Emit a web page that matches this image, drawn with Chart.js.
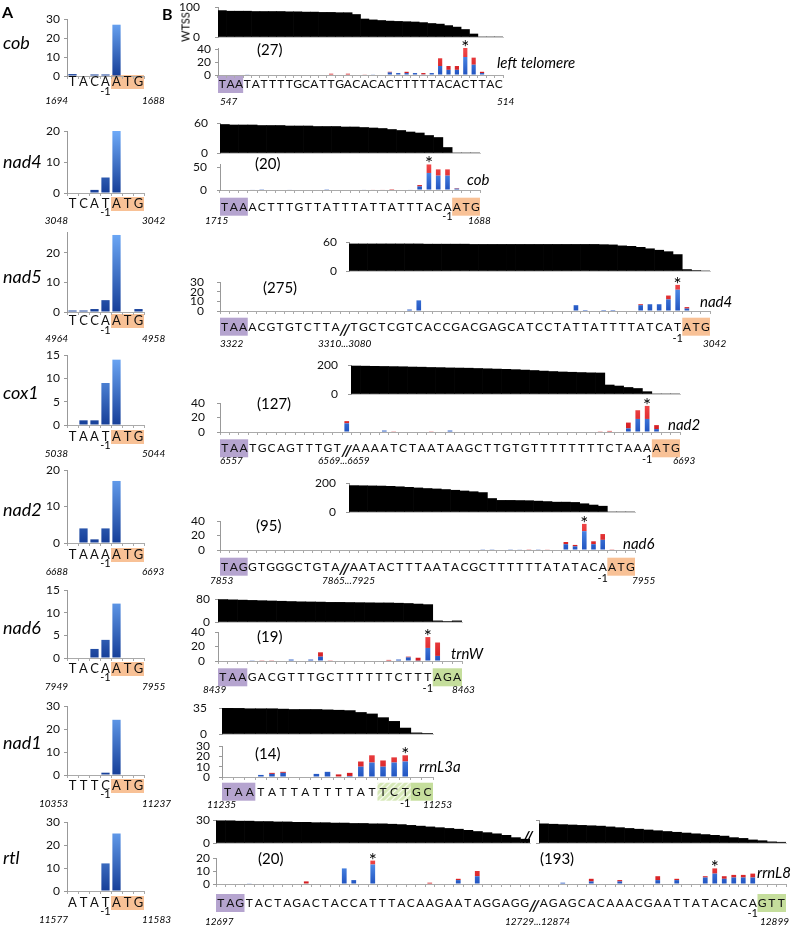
<!DOCTYPE html>
<html>
<head>
<meta charset="utf-8">
<script src="https://cdn.jsdelivr.net/npm/chart.js@4.4.1/dist/chart.umd.min.js"></script>
<style>
  body { margin: 0; width: 796px; height: 930px; position: relative; background: #fff; overflow: hidden; font-family: Lato, "Liberation Sans", sans-serif; color: #000; }
  canvas { position: absolute; }
  .t { position: absolute; white-space: nowrap; line-height: 1; }
</style>
</head>
<body>
<script>
// ---------- panel A: reads at the start codon ----------
const aGenes = ['cob', 'nad4', 'nad5', 'cox1', 'nad2', 'nad6', 'nad1', 'rtl'];
const aSeqs = ['TACAATG', 'TCATATG', 'TCCAATG', 'TAATATG', 'TAAAATG', 'TACAATG', 'TTTCATG', 'ATATATG'];
const aLeftPos = ['1694', '3048', '4964', '5038', '6688', '7949', '10353', '11577'];
const aRightPos = ['1688', '3042', '4958', '5044', '6693', '7955', '11237', '11583'];
const aCob = [1, 0, 0.8, 0.8, 27, 0, 0];
const aNad4 = [0, 0, 1, 5, 20, 0, 0];
const aNad5 = [0.5, 0.5, 1, 4, 26, 0, 1];
const aCox1 = [0, 1, 1, 9, 14, 0, 0];
const aNad2 = [0, 4, 1, 4, 17, 0, 0];
const aNad6 = [0, 0, 2, 4, 12, 0, 0];
const aNad1 = [0, 0, 0, 1, 24, 0, 0];
const aRtl = [0, 0, 0, 12, 25, 0, 0];
const aCounts = [aCob, aNad4, aNad5, aCox1, aNad2, aNad6, aNad1, aRtl];
const aMax = [30, 20, 27, 15, 20, 15, 30, 30];
const aStep = [10, 10, 10, 5, 10, 5, 10, 10];

// ---------- panel B: upstream regions ----------
const b1Seq = 'TAATATTTTGCATTGACACACTTTTTACACTTAC'.split('');
const b1Blue = [0,0,0,1,0,0,0,0,0,0, 0,0,0,0,0,0,0,0,1,0, 4,3,3,3,1,3,14,8,8,28, 16,3,0,0];
const b1Red  = [0,0,0,0,0,0,0,0,0,0, 0,0,0,2,0,2,0,1,0,0, 1,0,2,0,2,0,12,6,6,14, 11,2,0,0];
const b1Wtss = [88,86,86,86,85,85,85,85,84,84, 83,83,82,82,81,81,75,60,57,55, 53,52,51,50,48,45,43,38,33,25, 10,0,0,0];

const b2Seq = 'TAAACTTTGTTATTTATTATTTACAATG'.split('');
const b2Blue = [0,0,0,1,0.5,0,0,1,0,0, 0,0.5,0,0,0,1,0,0,0,0, 1,8,38,32,32,3,0,0];
const b2Red  = [0,0,0,0,0,0,0,0,0,0, 0,0,0,0,0,0,1,1,2,0, 0,3,19,14,14,1,0,0];
const b2Wtss = [57,56,56,56,55,55,55,54,54,54, 53,53,53,52,52,51,50,49,47,45, 42,40,35,31,11,0,0,0];

const b3Seq = [...'TAAACGTGTCTTA', '//', ...'TGCTCGTCACCGACGAGCATCCTATTATTTTATCATATG'];
const b3Blue = [0,0,0,0,0,0,0,0,0,0, 0,0,0,0,0,0,0,0,0,0, 1.5,11,0.5,0.5,0,0,0,0,0,0, 0,0,0,0,0,0,0,0,6,1, 0,1,1,0,0,6,7,7,12,22, 2.5,0.5,0];
const b3Red  = [0,0,0,0,0,0,0,0,0,0, 0,0,0,0,0,0,0,0,0,0, 0,0,0,0,0,0,0,0,0,0, 0,0,0,0,0,0,0,0,0,0, 0,0,0,0,0,1,0,0,4,5, 1.5,0,0];
const b3Wtss = [null,null,null,null,null,null,null,null,null,null, null,null,null,null,56,56,56,56,56,56, 56,56,55.5,55.5,55.5,55.5,55.5,55,55,55, 55,55,55,55,55,55,55,55,55,55, 55,54.5,54,52,51,49,46,43,40,34, 3,1,0];

const b4Seq = [...'TAATGCAGTTTGT', '//', ...'AAAATCTAATAAGCTTGTGTTTTTTTTCTAAAATG'];
const b4Blue = [0,0,0,0,0,0,0,0,0,0, 0,0,0,12,0,0,0,2,0,0, 0,0,0,0,2,0,0,0,0,0, 0,0,0,0,0,0,0,0,0,0, 0,0,0,5,18,18,4,0,0];
const b4Red  = [0,0,0,0,0,0,0,0,0,0, 0,0,0,3,0,0,0,0,1,0, 0,0,1,0,0,0,0,0,0,0, 0,0,0,0,0,0,0,0,0,0, 1,1.5,0,8,12,18,5.5,0,0];
const b4Wtss = [null,null,null,null,null,null,null,null,null,null, null,null,null,null,193,192,191,190,189,188, 186,185,183,182,180,179,178,176,174,172, 170,168,165,162,158,155,152,150,148,146, 145,62,55,45,38,16,0,0,0];

const b5Seq = [...'TAGGTGGGCTGTA', '//', ...'AATACTTTAATACGCTTTTTTATATACAATG'];
const b5Blue = [0,0,0,0,0,0,0,0,0,0, 0,0,0,0,0,0,0,0,0,0, 0,0,0,0,0,0,0,0,1,1, 0.7,1,0.5,0,1,0,0,8,5,26, 8,14,0,0,0];
const b5Red  = [0,0,0,0,0,0,0,0,0,0, 0,0,0,0,0,0,0,0,0,0, 0,0,0,0,0,0,0,0,0,0, 0,0,0,1,0,0.5,0,3,2,10, 4,8,1,0,0];
const b5Wtss = [null,null,null,null,null,null,null,null,null,null, null,null,null,null,182,181,180,179,177,174, 170,166,162,159,155,150,145,140,134,93, 80,80,79,78,75,72,68,68,66,57, 48,40,0,0,0];

const b6Seq = 'TAAGACGTTTGCTTTTTTCTTTAGA'.split('');
const b6Blue = [0,0,0,1,0,0,0,2,0,2, 6,0,0,0,0,0,0,0,2,5, 0.5,18,7,0,0];
const b6Red  = [0,0,0,0,1,1,0,0,0,0, 6,1,0,0,0,0,0,1.5,0,1, 4,15,18.5,0,0];
const b6Wtss = [80,79,78,77,76,75,74,73,72,71.5, 71,70,70,69.5,69,68.5,68,68,67,66, 64,62,4,1.5,4];

const b7Seq = 'TAATATTATTTTATTCTGC'.split('');
const b7Blue = [0,0,0,2,3,4,0.5,0.5,3,5, 0.5,1,10,14,10,14,15,0,0];
const b7Red  = [0,0,0,0,1,1,0,0,0,0, 2,3,5,7,6,5,6,0,0];
const b7Wtss = [35,34.5,34,34,34,33.5,33,33,33,32.5, 32,31.5,29,27,22,17,8,1.5,0.5];

const b8Seq = [...'TAGTACTAGACTACCATTTACAAGAATAGGAGG', '//', ...'AGAGCACAAACGAATTATACACAGTT'];
const b8Blue = [0,0,0,0.5,0,0,0,0,0,0, 0,0,0,12,3,0,15,0,0,0, 0,0,0,0,0,3,0,6,0,0, 0,0,0,0,0,0,1,0,0,2, 0,0,2,0,0,0,3,0,3,0, 0,5,8,4,5,5,5,0,0,0];
const b8Red  = [0,0,0,0,0,0,0,0,0,2, 0,0,0,0,0,0,3,0,0,0, 0,0,1,0,0,1,0,4,0,0, 0,0,0,0,0,0,0,0,0,2, 0,0,1,0,0,0,3,0,1,0, 0,1,4,2,2,2,3,0,0,0];
const b8Wtss = [29,29,28.5,28.5,28,28,27.5,27.5,27,27, 26.5,26.5,26,26,25.5,25.5,25,25,24.5,24, 23,22,21,20,19,18,16.5,15,13.5,12, 10,7,5,null,25,24.5,24,23.5,23,22.5, 22,21,20,19,18,17,16,15,14,13, 12,11,10,9,7,6,4,3,1.5,1];

// ---------- colours ----------
const PURPLE = '#b5a4cf', ORANGE = '#f8c196', GREEN = '#c5de9c';

// ---------- helpers ----------
function label(text, x, y, font, align, extra) {
  const d = document.createElement('div');
  d.className = 't';
  d.textContent = text;
  d.style.left = x + 'px';
  d.style.top = y + 'px';
  d.style.font = font;
  const tx = align === 'r' ? '-100%' : align === 'c' ? '-50%' : '0';
  d.style.transform = `translate(${tx},-50%)` + (extra || '');
  document.body.appendChild(d);
}

let hatch = null;
function hatchFill(ctx) {
  if (!hatch) {
    const c = document.createElement('canvas');
    c.width = 6; c.height = 6;
    const g = c.getContext('2d');
    g.fillStyle = '#d6e8b8';
    g.fillRect(0, 0, 6, 6);
    g.strokeStyle = '#f4f9ea';
    g.lineWidth = 1.3;
    g.beginPath(); g.moveTo(0, 6); g.lineTo(6, 0); g.moveTo(-3, 3); g.lineTo(3, -3); g.moveTo(3, 9); g.lineTo(9, 3); g.stroke();
    hatch = ctx.createPattern(c, 'repeat');
  }
  return hatch;
}

function vGrad(dark, light) {
  return (c) => {
    const a = c.chart.chartArea;
    if (!a) return dark;
    const g = c.chart.ctx.createLinearGradient(0, a.bottom, 0, a.top);
    g.addColorStop(0, dark);
    g.addColorStop(1, light);
    return g;
  };
}

const decor = {
  id: 'decor',
  beforeDraw(chart, args, o) {
    if (!o.boxes) return;
    const x = chart.scales.x, ctx = chart.ctx;
    const w = (x.right - x.left) / chart.data.labels.length;
    o.boxes.forEach(([a, b, fill]) => {
      ctx.fillStyle = fill === 'hatch' ? hatchFill(ctx) : fill;
      ctx.fillRect(x.getPixelForValue(a) - w / 2, o.boxY, (b - a + 1) * w, o.boxH);
    });
  },
  afterDraw(chart, args, o) {
    const x = chart.scales.x, y = chart.scales.y, ctx = chart.ctx;
    ctx.save();
    ctx.fillStyle = '#000';
    ctx.textAlign = 'center';
    (o.stars || []).forEach(i => {
      const tot = chart.data.datasets.reduce((s, d) => s + (d.data[i] || 0), 0);
      ctx.font = '19px Lato';
      ctx.textBaseline = 'alphabetic';
      ctx.fillText('*', x.getPixelForValue(i), y.getPixelForValue(tot) + 6);
    });
    if (o.minus != null) {
      ctx.font = '11px Lato';
      ctx.textBaseline = 'middle';
      ctx.fillText('-1', x.getPixelForValue(o.minus), o.minusY);
    }
    ctx.restore();
  }
};

// one small chart; x0..x1 is the plot width, y0 the zero line,
// tickPx the pixel row of the value tickVal
function panel(o) {
  const padT = 30, padR = 8, yW = 46;
  const x0 = Math.round(o.x0), x1 = Math.round(o.x1), y0 = Math.round(o.y0);
  const yTop = Math.round(o.y0 - (o.y0 - o.tickPx) * o.max / o.tickVal);
  const W = x1 - x0 + yW + padR, H = y0 - yTop + padT + o.xH;
  const cv = document.createElement('canvas');
  cv.width = W; cv.height = H;
  cv.style.left = (x0 - yW) + 'px';
  cv.style.top = (yTop - padT) + 'px';
  cv.style.width = W + 'px';
  cv.style.height = H + 'px';
  document.body.appendChild(cv);
  const off = yTop - padT;
  const fs = o.font || 12;
  const d = o.decor || {};
  const plug = {
    boxes: d.boxes,
    boxY: d.ly != null ? d.ly - off - (d.boxH || 18) / 2 : 0,
    boxH: d.boxH || 18,
    stars: d.stars,
    minus: d.minus,
    minusY: d.minusY != null ? d.minusY - off : 0
  };
  return new Chart(cv, {
    type: 'bar',
    data: { labels: o.labels, datasets: o.datasets },
    options: {
      responsive: false,
      animation: false,
      layout: { padding: { top: padT, right: padR, left: 0, bottom: 0 } },
      plugins: { legend: { display: false }, tooltip: { enabled: false }, decor: plug },
      scales: {
        x: {
          stacked: true,
          offset: true,
          border: { color: o.xLine || '#aaa' },
          grid: { offset: true, drawOnChartArea: false, drawTicks: !!o.letters, tickLength: 3, color: '#aaa' },
          ticks: {
            display: !!o.letters,
            autoSkip: false,
            maxRotation: 0,
            color: '#111',
            padding: o.letters ? (d.ly - o.y0) - 3 - fs * 0.6 : 0,
            font: (c) => (c.tick && c.tick.label === '//')
              ? { size: 16, weight: 'bold', style: 'italic', family: 'Lato' }
              : { size: fs, family: 'Lato' }
          },
          afterFit: (s) => { s.height = o.xH; }
        },
        y: {
          stacked: true,
          min: 0,
          max: o.max,
          border: { color: '#999' },
          grid: { drawOnChartArea: false, tickLength: 3, color: '#999' },
          ticks: {
            autoSkip: false, padding: o.gap - 3,
            color: '#111', font: { size: 12, family: 'Lato' }, display: o.yLabels !== false
          },
          // labelled ticks are the multiples of the step only
          afterBuildTicks: (s) => {
            const t = [];
            for (let v = 0; v <= o.max + 1e-9; v += o.step) t.push({ value: v });
            s.ticks = t;
          },
          afterFit: (s) => { s.width = yW; }
        }
      }
    },
    plugins: [decor]
  });
}

// ---------- panel A ----------
const aLayout = [
  { y0: 76,  tickPx: 19,  tickVal: 30, ly: 82,  numY: 100, minusY: 91,  nameY: 42 },
  { y0: 193, tickPx: 131, tickVal: 20, ly: 204, numY: 220, minusY: 212, nameY: 161 },
  { y0: 312, tickPx: 253, tickVal: 20, ly: 321, numY: 338, minusY: 330, nameY: 276 },
  { y0: 425, tickPx: 355, tickVal: 15, ly: 437, numY: 453, minusY: 445, nameY: 392 },
  { y0: 543, tickPx: 470, tickVal: 20, ly: 555, numY: 571, minusY: 563, nameY: 509 },
  { y0: 658, tickPx: 590, tickVal: 15, ly: 669, numY: 686, minusY: 677, nameY: 627 },
  { y0: 775, tickPx: 706, tickVal: 30, ly: 786, numY: 803, minusY: 794, nameY: 742 },
  { y0: 891, tickPx: 822, tickVal: 30, ly: 903, numY: 919, minusY: 911, nameY: 857 }
];

aGenes.forEach((g, i) => {
  const L = aLayout[i];
  panel({
    x0: 67, x1: 144, y0: L.y0, tickPx: L.tickPx, tickVal: L.tickVal,
    max: aMax[i], step: aStep[i], gap: 7, xH: 40, font: 13, letters: true,
    labels: aSeqs[i].split(''),
    datasets: [{
      data: aCounts[i],
      backgroundColor: vGrad('#173f98', '#6eaaf8'),
      barPercentage: 0.75, categoryPercentage: 1
    }],
    decor: { boxes: [[4, 6, ORANGE]], ly: L.ly, boxH: 14, minus: 3, minusY: L.minusY }
  });
  label(g, 3, L.nameY, 'italic 18px Lato');
  label(aLeftPos[i], 68, L.numY, 'italic 10px Lato', 'r');
  label(aRightPos[i], 142, L.numY, 'italic 10px Lato');
});

label('A', 2, 11, 'bold 16px Lato');
label('B', 162, 13, 'bold 16px Lato');

// ---------- panel B ----------
const bRows = [
  { seq: b1Seq, blue: b1Blue, red: b1Red, wtss: b1Wtss, x0: 218, x1: 503,
    bar: { y0: 75, tickPx: 49.3, tickVal: 40, max: 42, step: 20, gap: 7 },
    wt: { y0: 36.5, tickPx: 6.7, tickVal: 100, max: 100, step: 100, gap: 18, segs: [[0, 33]] },
    ly: 84, stars: [29], minus: null, boxes: [[0, 2, PURPLE]],
    counts: [['(27)', 257, 49]], gene: ['left telomere', 497, 62],
    nums: [['547', 220, 101], ['514', 497, 101]] },
  { seq: b2Seq, blue: b2Blue, red: b2Red, wtss: b2Wtss, x0: 220, x1: 480,
    bar: { y0: 190, tickPx: 167.3, tickVal: 50, max: 58, step: 50, gap: 13 },
    wt: { y0: 152.5, tickPx: 123, tickVal: 60, max: 60, step: 60, gap: 12, segs: [[0, 27]] },
    ly: 206.7, stars: [22], minus: 24, minusY: 216, boxes: [[0, 2, PURPLE], [25, 27, ORANGE]],
    counts: [['(20)', 255, 163]], gene: ['cob', 467, 179],
    nums: [['1715', 205, 220], ['1688', 468, 220]] },
  { seq: b3Seq, blue: b3Blue, red: b3Red, wtss: b3Wtss, x0: 220, x1: 710,
    bar: { y0: 310.7, tickPx: 281.7, tickVal: 30, max: 30, step: 10, gap: 16 },
    wt: { y0: 270.7, tickPx: 241.7, tickVal: 60, max: 60, step: 60, gap: 12, segs: [[14, 52]] },
    ly: 326.7, stars: [49], minus: 49, minusY: 338.5, boxes: [[0, 2, PURPLE], [50, 52, ORANGE]],
    counts: [['(275)', 263, 287]], gene: ['nad4', 700, 301],
    nums: [['3322', 220, 342.7], ['3310...3080', 318, 342.7], ['3042', 703, 342.7]] },
  { seq: b4Seq, blue: b4Blue, red: b4Red, wtss: b4Wtss, x0: 220, x1: 680,
    bar: { y0: 431.7, tickPx: 403.3, tickVal: 40, max: 40, step: 20, gap: 15 },
    wt: { y0: 394, tickPx: 365, tickVal: 200, max: 200, step: 200, gap: 13, segs: [[14, 48]] },
    ly: 448.3, stars: [45], minus: 45, minusY: 459.3, boxes: [[0, 2, PURPLE], [46, 48, ORANGE]],
    counts: [['(127)', 257, 403]], gene: ['nad2', 668, 424],
    nums: [['6557', 220, 460], ['6569...6659', 318, 460], ['6693', 673, 460]] },
  { seq: b5Seq, blue: b5Blue, red: b5Red, wtss: b5Wtss, x0: 220, x1: 635,
    bar: { y0: 550, tickPx: 520.7, tickVal: 40, max: 40, step: 20, gap: 15 },
    wt: { y0: 512, tickPx: 483.3, tickVal: 200, max: 200, step: 200, gap: 13, segs: [[14, 44]] },
    ly: 566.7, stars: [39], minus: 41, minusY: 578.3, boxes: [[0, 2, PURPLE], [42, 44, ORANGE]],
    counts: [['(95)', 256, 525]], gene: ['nad6', 623, 543],
    nums: [['7853', 210, 580], ['7865...7925', 322, 580], ['7955', 632, 580]] },
  { seq: b6Seq, blue: b6Blue, red: b6Red, wtss: b6Wtss, x0: 218, x1: 462,
    bar: { y0: 661, tickPx: 632.3, tickVal: 40, max: 40, step: 20, gap: 13 },
    wt: { y0: 622, tickPx: 600, tickVal: 80, max: 82, step: 80, gap: 8, segs: [[0, 24]] },
    ly: 677.3, stars: [21], minus: 21, minusY: 688.3, boxes: [[0, 2, PURPLE], [22, 24, GREEN]],
    counts: [['(19)', 257, 636]], gene: ['trnW', 451, 653],
    nums: [['8439', 203, 689], ['8463', 452, 689]] },
  { seq: b7Seq, blue: b7Blue, red: b7Red, wtss: b7Wtss, x0: 222, x1: 433,
    bar: { y0: 776.7, tickPx: 745.7, tickVal: 30, max: 30, step: 10, gap: 12 },
    wt: { y0: 733.5, tickPx: 708, tickVal: 35, max: 35, step: 35, gap: 15, segs: [[0, 18]] },
    ly: 791.7, stars: [16], minus: 16, minusY: 803.3, boxes: [[0, 2, PURPLE], [14, 16, 'hatch'], [17, 18, GREEN]],
    counts: [['(14)', 255, 753]], gene: ['rrnL3a', 419, 766],
    nums: [['11235', 207, 804], ['11253', 423, 804]] },
  { seq: b8Seq, blue: b8Blue, red: b8Red, wtss: b8Wtss, x0: 216, x1: 786,
    bar: { y0: 884, tickPx: 858, tickVal: 20, max: 20, step: 10, gap: 6 },
    wt: { y0: 843, tickPx: 820, tickVal: 30, max: 30, step: 30, gap: 6, segs: [[0, 32], [34, 59]] },
    ly: 903, stars: [16, 52], minus: 56, minusY: 913, boxes: [[0, 2, PURPLE], [57, 59, GREEN]],
    counts: [['(20)', 258, 858], ['(193)', 540, 858]], gene: ['rrnL8', 757, 872],
    nums: [['12697', 205, 921], ['12729...12874', 505, 921], ['12899', 760, 921]] }
];

bRows.forEach((r) => {
  const n = r.seq.length;
  const w = (r.x1 - r.x0) / n;
  // stacked read counts
  panel({
    x0: r.x0, x1: r.x1, y0: r.bar.y0, tickPx: r.bar.tickPx, tickVal: r.bar.tickVal,
    max: r.bar.max, step: r.bar.step, gap: r.bar.gap, xH: 40, font: 12, letters: true,
    labels: r.seq,
    datasets: [
      { data: r.blue, backgroundColor: vGrad('#2153c0', '#5c9cf3'), barPercentage: 0.5, categoryPercentage: 1 },
      { data: r.red, backgroundColor: vGrad('#d11a1e', '#f2494a'), barPercentage: 0.5, categoryPercentage: 1 }
    ],
    decor: { boxes: r.boxes, ly: r.ly, boxH: 18, stars: r.stars, minus: r.minus, minusY: r.minusY }
  });
  // WTSS coverage, one chart per segment
  r.wt.segs.forEach(([a, b], si) => {
    panel({
      x0: r.x0 + a * w, x1: r.x0 + (b + 1) * w, y0: r.wt.y0, tickPx: r.wt.tickPx, tickVal: r.wt.tickVal,
      max: r.wt.max, step: r.wt.step, gap: r.wt.gap, xH: 30, letters: false, xLine: '#c8c8c8',
      yLabels: si === 0,
      labels: r.seq.slice(a, b + 1),
      datasets: [{ data: r.wtss.slice(a, b + 1), backgroundColor: '#000', barPercentage: 1, categoryPercentage: 1 }]
    });
  });
  r.counts.forEach(([t, x, y]) => label(t, x, y, '15px Lato'));
  label(r.gene[0], r.gene[1], r.gene[2], 'italic 15px Lato');
  r.nums.forEach(([t, x, y]) => label(t, x, y, 'italic 10px Lato'));
});

// coverage break in the rtl row and the WTSS axis title
label('//', 528, 835, 'bold italic 16px Lato', 'c');
label('WTSS', 185, 27, '11px Lato', 'c', ' rotate(-90deg)');
</script>
</body>
</html>
